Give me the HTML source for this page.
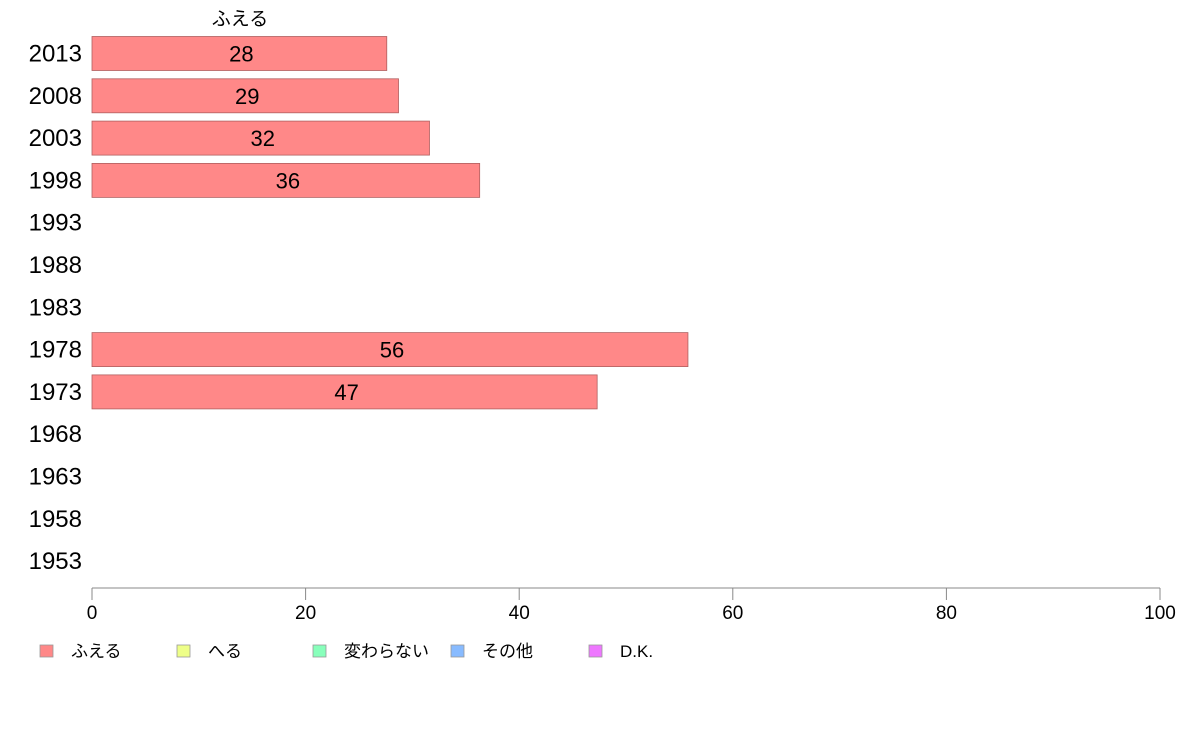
<!DOCTYPE html>
<html><head><meta charset="utf-8"><style>
body{margin:0;background:#fff;width:1188px;height:736px;overflow:hidden;font-family:"Liberation Sans","Noto Sans CJK JP",sans-serif}
</style></head><body>
<svg id="c" width="1188" height="736" font-family="Liberation Sans, Noto Sans CJK JP, sans-serif">
<text x="240" y="25" font-size="19" text-anchor="middle">ふえる</text>
<g id="bars"></g>
<g id="axis"></g>
<g id="legend"></g>
</svg>
<script>
const categories=["2013","2008","2003","1998","1993","1988","1983","1978","1973","1968","1963","1958","1953"];
const values=[27.6,28.7,31.6,36.3,null,null,null,55.8,47.3,null,null,null,null];
const ticks=[0,20,40,60,80,100];
const legendLabels=["ふえる","へる","変わらない","その他","D.K."];
const legendColors=["#ff8888","#eeff88","#88ffbb","#88bbff","#ee77ff"];
const NS="http://www.w3.org/2000/svg";
const x=v=>92+v*10.68;
const y=i=>53.5+i*42.3;
function mk(tag,attrs,parent){const e=document.createElementNS(NS,tag);for(const k in attrs)e.setAttribute(k,attrs[k]);parent.appendChild(e);return e;}
const bars=document.getElementById('bars'),axis=document.getElementById('axis'),legend=document.getElementById('legend');
categories.forEach((c,i)=>{
  const t=mk('text',{x:82,y:y(i)+8,'font-size':24,'text-anchor':'end'},bars);t.textContent=c;
  
  
  const v=values[i];
  if(v!=null){
    const r=mk('rect',{x:x(0),y:y(i)-17,width:x(v)-x(0),height:34,fill:'#ff8888',stroke:'#b06060','stroke-width':0.8},bars);
    
    
    const l=mk('text',{x:(x(0)+x(v))/2+2,y:y(i)+8,'font-size':22,'text-anchor':'middle'},bars);l.textContent=Math.round(v);
    
    
  }
});
const al=mk('line',{x1:x(0),x2:x(100),y1:588,y2:588,stroke:'#888'},axis);


ticks.forEach(t=>{
  const tl=mk('line',{x1:x(t),x2:x(t),y1:588,y2:600,stroke:'#888'},axis);
  
  
  const tx=mk('text',{x:x(t),y:619,'font-size':19,'text-anchor':'middle'},axis);tx.textContent=t;
  
  
});
const lx=[40,177,313,451,589];
legendLabels.forEach((s,i)=>{
  const r=mk('rect',{x:lx[i],y:645,width:13,height:12,fill:legendColors[i],stroke:'#999','stroke-width':0.8},legend);
  
  
  const t=mk('text',{x:lx[i]+31,y:657,'font-size':17},legend);t.textContent=s;
  
  
});
</script>
</body></html>
